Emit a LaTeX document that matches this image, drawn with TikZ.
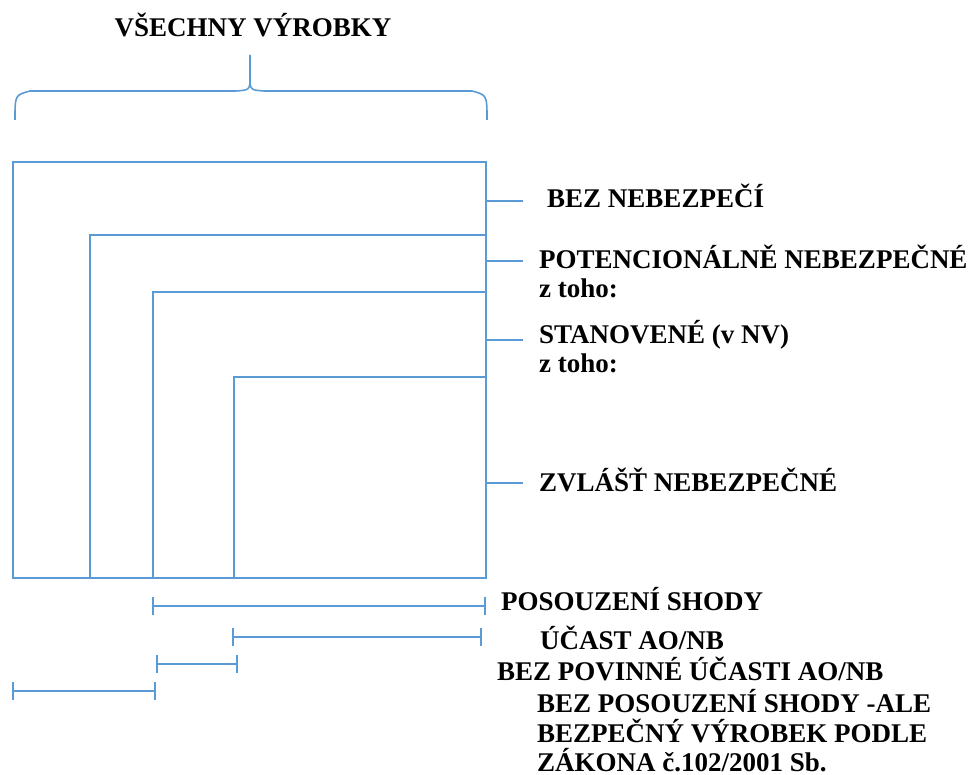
\documentclass[tikz,border=0pt]{standalone}
\usepackage{fontspec}
\setmainfont{Liberation Serif}
\usetikzlibrary{arrows.meta,positioning,calc}

\definecolor{lineblue}{RGB}{91,155,213}

\begin{document}
\begin{tikzpicture}[x=1pt,y=-1pt,
  ln/.style={draw=lineblue, line width=1.6pt},
  bar/.style={draw=lineblue, line width=1.6pt, {Bar[width=18pt]}-{Bar[width=18pt]}},
  lbl/.style={font=\fontsize{27}{30}\selectfont\bfseries, inner sep=0pt, anchor=base west}]
\useasboundingbox (0,0) rectangle (974,775);

% brace and heading
\node[lbl, anchor=base] (all) at (253,37) {VŠECHNY VÝROBKY};
\draw[ln] (15,120) .. controls (15,95) .. (30,91) -- (236,91) .. controls (250,90) .. (250,76) -- (250,55);
\draw[ln] (250,76) .. controls (250,90) .. (264,91) -- (472,91) .. controls (487,95) .. (487,120);

% nested boxes
\draw[ln] (13,162) rectangle (486,578);
\foreach \x/\y in {90/235,153/292,234/377} {
  \draw[ln] (\x,578) |- (486,\y);
}

% labels on the right
\foreach \y/\n in {201/bez,261/pot,340/stan,483/zvl} {
  \coordinate (r-\n) at (486,\y);
  \draw[ln] (r-\n) -- ++(37,0);
}
\node[lbl] (bez) at (547,208) {BEZ NEBEZPEČÍ};
\node[lbl] (pot) at (539,269) {POTENCIONÁLNĚ NEBEZPEČNÉ};
\node[lbl] (pot2) at (539,298) {z toho:};
\node[lbl] (stan) at (539,344) {STANOVENÉ (v NV)};
\node[lbl] (stan2) at (539,373) {z toho:};
\node[lbl] (zvl) at (539,491) {ZVLÁŠŤ NEBEZPEČNÉ};

% ranges below
\draw[bar] (152,606) -- (486,606);
\draw[bar] (232,637) -- (482,637);
\draw[bar] (156,664) -- (238,664);
\draw[bar] (12,691) -- (156,691);
\node[lbl] (shoda) at (501,610) {POSOUZENÍ SHODY};
\node[lbl] (ucast) at (540,649) {ÚČAST AO/NB};
\node[lbl] (bezucast) at (497,680) {BEZ POVINNÉ ÚČASTI AO/NB};
\node[lbl] (bezshoda) at (537,712) {BEZ POSOUZENÍ SHODY -ALE};
\node[lbl] (bezshoda2) at (537,742) {BEZPEČNÝ VÝROBEK PODLE};
\node[lbl] (bezshoda3) at (537,771) {ZÁKONA č.102/2001 Sb.};
\end{tikzpicture}
\end{document}
